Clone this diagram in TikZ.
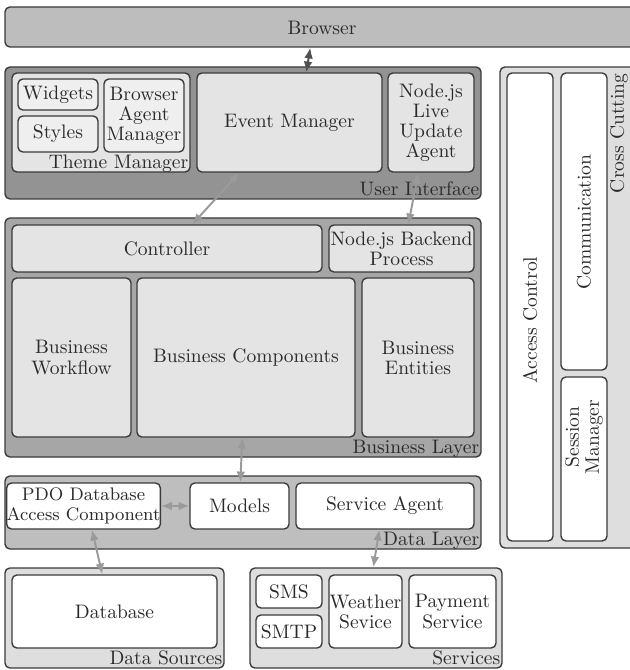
\documentclass[tikz,border=0pt]{standalone}
\usetikzlibrary{arrows.meta,calc}
\definecolor{cBorder}{HTML}{3A3A3A}
\definecolor{cText}{HTML}{2A2A2A}
\definecolor{cBrowser}{HTML}{BDBDBD}
\definecolor{cUI}{HTML}{939393}
\definecolor{cBiz}{HTML}{A6A6A6}
\definecolor{cData}{HTML}{BEBEBE}
\definecolor{cInner}{HTML}{E4E4E4}
\definecolor{cInnerL}{HTML}{EFEFEF}
\definecolor{cCross}{HTML}{DEDEDE}
\definecolor{cArrow}{HTML}{9A9A9A}
\definecolor{cArrowD}{HTML}{505050}
\newcommand\bx[7]{\node[#2, minimum width={(#5-#3)*0.512pt}, minimum height={(#6-#4)*0.512pt}] (#1) at ({(#3+#5)/2},{(#4+#6)/2}) {#7};}
\newcommand\lbl[3]{\node[anchor=base east, inner sep=0pt, text=cText] (#1) at ([xshift=-1.03pt, yshift=2.3pt]#2.south east) {#3};}
\tikzset{
  box/.style={draw=cBorder, line width=0.7pt, rounded corners=2.5pt, inner sep=0pt, align=center, text=cText},
  layerbrowser/.style={box, fill=cBrowser},
  layerui/.style={box, fill=cUI},
  layerbiz/.style={box, fill=cBiz},
  layerdata/.style={box, fill=cData},
  layerlight/.style={box, fill=cCross},
  inner/.style={box, fill=cInner},
  innerl/.style={box, fill=cInnerL},
  white/.style={box, fill=white},
  smalltext/.style={font=\fontsize{9.3}{10.3}\selectfont},
  rtext/.style={rotate=90, inner sep=0pt, align=center, text=cText},
  conn/.style={draw=cArrow, line width=1pt, {Latex[length=5.5pt,width=4.5pt]}-{Latex[length=5.5pt,width=4.5pt]}},
  connd/.style={conn, draw=cArrowD},
}
\begin{document}
\begin{tikzpicture}[x=0.512pt, y=-0.512pt, font=\fontsize{10}{10.3}\selectfont]
\useasboundingbox (0,0) rectangle (629,670);
% Browser
\bx{browser}{layerbrowser}{5}{7}{645}{47}{}
\node[text=cText] (browsertxt) at (322,28) {Browser};
% User Interface
\bx{ui}{layerui}{5}{67}{481}{199}{}
\lbl{uilbl}{ui}{User Interface}
\bx{theme}{inner}{12}{73}{190}{172}{}
\lbl{themelbl}{theme}{Theme Manager}
\bx{widgets}{innerl}{18}{79}{98}{110}{Widgets}
\bx{styles}{innerl}{18}{116}{98}{152}{Styles}
\bx{bam}{innerl}{104}{79}{184}{152}{Browser\\Agent\\Manager}
\bx{em}{inner}{197}{73}{382}{172}{Event Manager}
\bx{nodelive}{inner}{388}{73}{474}{172}{Node.js\\Live\\Update\\Agent}
% Cross Cutting
\bx{cross}{layerlight}{500}{67}{645}{548}{}
\node[rtext, anchor=east] (crosslbl) at (619,73) {Cross Cutting};
\bx{access}{white}{507}{73}{553}{541}{}
\node[rtext] (accesstxt) at (530,320) {Access Control};
\bx{comm}{white}{561}{73}{607}{370}{}
\node[rtext] (commtxt) at (584,222) {Communication};
\bx{session}{white}{561}{377}{607}{541}{}
\node[rtext] (sessiontxt) at (584,437) {Session\\Manager};
% Business Layer
\bx{biz}{layerbiz}{5}{218}{481}{457}{}
\lbl{bizlbl}{biz}{Business Layer}
\bx{controller}{inner}{12}{225}{322}{272}{Controller}
\bx{backend}{inner}{329}{225}{474}{272}{Node.js Backend\\Process}
\bx{bwork}{inner}{12}{278}{131}{437}{Business\\Workflow}
\bx{bcomp}{inner}{137}{278}{355}{437}{Business Components}
\bx{bent}{inner}{362}{278}{474}{437}{Business\\Entities}
% Data Layer
\bx{data}{layerdata}{5}{476}{481}{549}{}
\lbl{datalbl}{data}{Data Layer}
\bx{pdo}{white,smalltext}{7}{483}{160}{529}{PDO Database\\Access Component}
\bx{models}{white}{190}{483}{289}{529}{Models}
\bx{sagent}{white}{296}{483}{474}{529}{Service Agent}
% Data Sources
\bx{dsrc}{layerlight}{5}{568}{224}{668}{}
\lbl{dsrclbl}{dsrc}{Data Sources}
\bx{database}{white}{12}{575}{217}{648}{Database}
% Services
\bx{services}{layerlight}{250}{568}{502}{668}{}
\lbl{serviceslbl}{services}{Services}
\bx{sms}{white}{256}{575}{322}{608}{SMS}
\bx{smtp}{white}{256}{615}{322}{648}{SMTP}
\bx{weather}{white}{329}{575}{402}{648}{Weather\\Sevice}
\bx{payment}{white}{409}{575}{496}{648}{Payment\\Service}
% Connectors
\draw[connd] ($(browser.south west)+(306,0)$) -- ($(em.north west)+(110,0)$);
\draw[conn] ($(em.south west)+(43,0)$) -- ($(controller.north west)+(181,0)$);
\draw[conn] ($(nodelive.south west)+(31,0)$) -- ($(backend.north west)+(80,0)$);
\draw[conn] ($(bcomp.south west)+(106,0)$) -- ($(models.north west)+(51,0)$);
\draw[conn] (pdo.east) -- (models.west);
\draw[conn] ($(pdo.south west)+(86,0)$) -- ($(database.north west)+(91,0)$);
\draw[conn] ($(sagent.south west)+(84,0)$) -- ($(services.north west)+(124,0)$);
\end{tikzpicture}
\end{document}
